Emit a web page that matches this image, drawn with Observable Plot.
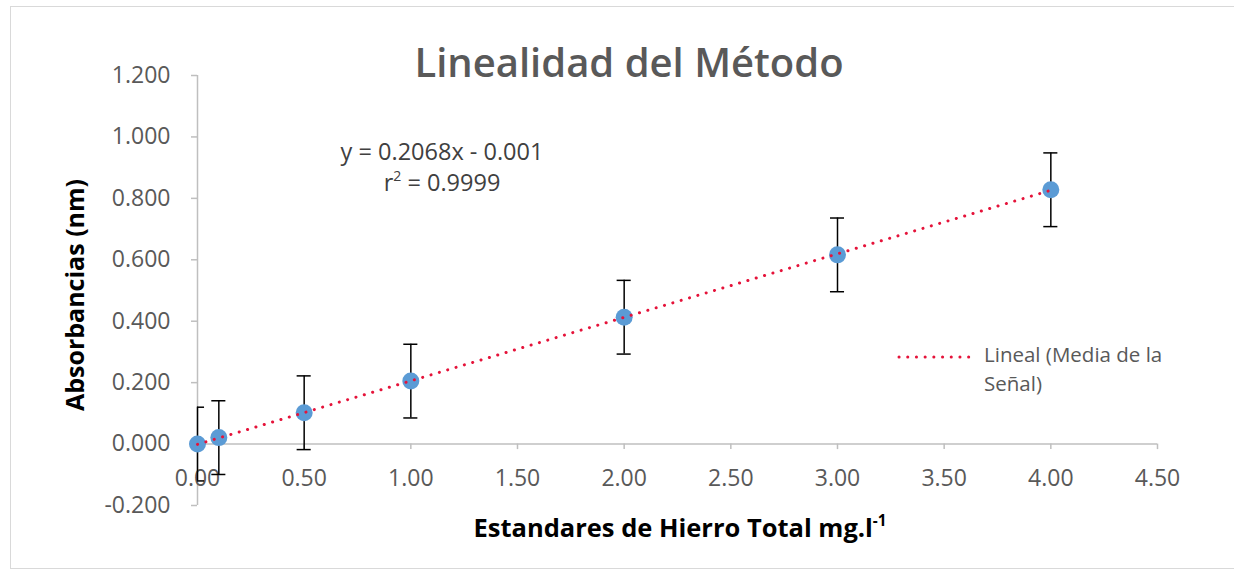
<!DOCTYPE html>
<html>
<head>
<meta charset="utf-8">
<script src="https://cdn.jsdelivr.net/npm/d3@7"></script>
<script src="https://cdn.jsdelivr.net/npm/@observablehq/plot@0.6"></script>
<style>
  html, body { margin: 0; padding: 0; background: #fff; overflow: hidden; }
  #wrap { position: relative; width: 1234px; height: 571px; font-family: "Open Sans", sans-serif; overflow: hidden; }
  #frame { position: absolute; left: 10px; top: 6px; width: 1260px; height: 563px; border: 1.5px solid #D9D9D9; box-sizing: border-box; }
  #chart { position: absolute; left: 0; top: 0; }
  .abs { position: absolute; white-space: nowrap; }
  #title { left: 629px; top: 61px; transform: translate(-50%, -50%); font-size: 40px; font-weight: 600; color: #595959; }
  #eq { left: 442px; top: 167px; transform: translate(-50%, -50%); font-size: 23.5px; color: #404040; text-align: center; line-height: 31px; }
  #xlabel { left: 680px; top: 527px; transform: translate(-50%, -50%); font-size: 25.5px; font-weight: 700; color: #000; }
  #ylabel { left: 74px; top: 295px; transform: translate(-50%, -50%) rotate(-90deg); font-size: 25px; font-weight: 700; color: #000; }
  #legend { left: 896px; top: 340px; font-size: 20.5px; color: #595959; line-height: 29px; }
  #legend svg { vertical-align: middle; margin-right: 8px; }
  sup { font-size: 0.6em; vertical-align: 0.7em; line-height: 0; }
</style>
</head>
<body>
<div id="wrap">
  <div id="frame"></div>
  <div id="chart"></div>
  <div id="title" class="abs">Linealidad del Método</div>
  <div id="eq" class="abs">y = 0.2068x - 0.001<br>r<sup>2</sup> = 0.9999</div>
  <div id="xlabel" class="abs">Estandares de Hierro Total mg.l<sup>-1</sup></div>
  <div id="ylabel" class="abs">Absorbancias (nm)</div>
  <div id="legend" class="abs"><svg width="80" height="6"><line x1="3" y1="3" x2="78" y2="3" stroke="#E5133A" stroke-width="3" stroke-dasharray="0.1 8.6" stroke-linecap="round"/></svg>Lineal (Media de la<br><span style="margin-left:88px">Señal)</span></div>
</div>
<script>
// Data
const concentrations = [0, 0.1, 0.5, 1, 2, 3, 4];
const absorbances = [0.000, 0.021, 0.102, 0.205, 0.413, 0.616, 0.828];
const errors = [0.12, 0.12, 0.12, 0.12, 0.12, 0.12, 0.12];
const slope = 0.2068;
const intercept = -0.001;
const xTicks = [0, 0.5, 1, 1.5, 2, 2.5, 3, 3.5, 4, 4.5];
const yTicks = [-0.2, 0, 0.2, 0.4, 0.6, 0.8, 1.0, 1.2];

const points = concentrations.map((x, i) => ({x, y: absorbances[i], e: errors[i]}));
const trendXs = [concentrations[0], concentrations[concentrations.length - 1]];
const trend = trendXs.map(x => ({x, y: slope * x + intercept}));

const axisGrey = "#BFBFBF";
const capHalf = 0.033;

const plot = Plot.plot({
  width: 1234,
  height: 571,
  marginLeft: 197,
  marginRight: 77,
  marginTop: 75,
  marginBottom: 66,
  style: {background: "transparent", fontFamily: "'Open Sans', sans-serif"},
  x: {domain: [0, 4.5], axis: null},
  y: {domain: [-0.2, 1.2], axis: null},
  marks: [
    Plot.ruleX([0], {stroke: axisGrey, strokeWidth: 1.5}),
    Plot.axisY({ticks: yTicks, tickSize: 6, tickPadding: 21, tickFormat: d => d.toFixed(3),
      stroke: axisGrey, strokeWidth: 1.5, fill: "#595959", fontSize: 23, label: null}),
    Plot.ruleY([0], {stroke: axisGrey, strokeWidth: 1.5}),
    Plot.ruleX(xTicks, {x: d => d, y1: 0, y2: -0.018, stroke: axisGrey, strokeWidth: 1.5}),
    Plot.text(xTicks, {x: d => d, y: 0, dy: 35, text: d => d.toFixed(2), fill: "#595959", fontSize: 23}),
    Plot.ruleX(points, {x: "x", y1: d => d.y - d.e, y2: d => d.y + d.e, stroke: "#000", strokeWidth: 1.5}),
    Plot.ruleY(points, {y: d => d.y + d.e, x1: d => d.x - capHalf, x2: d => d.x + capHalf, stroke: "#000", strokeWidth: 1.5, clip: true}),
    Plot.ruleY(points, {y: d => d.y - d.e, x1: d => d.x - capHalf, x2: d => d.x + capHalf, stroke: "#000", strokeWidth: 1.5, clip: true}),
    Plot.dot(points, {x: "x", y: "y", r: 8.5, fill: "#5B9BD5"}),
    Plot.line(trend, {x: "x", y: "y", stroke: "#E5133A", strokeWidth: 3, strokeDasharray: "0.1 8.6", strokeLinecap: "round"})
  ]
});
document.getElementById("chart").appendChild(plot);
</script>
</body>
</html>
